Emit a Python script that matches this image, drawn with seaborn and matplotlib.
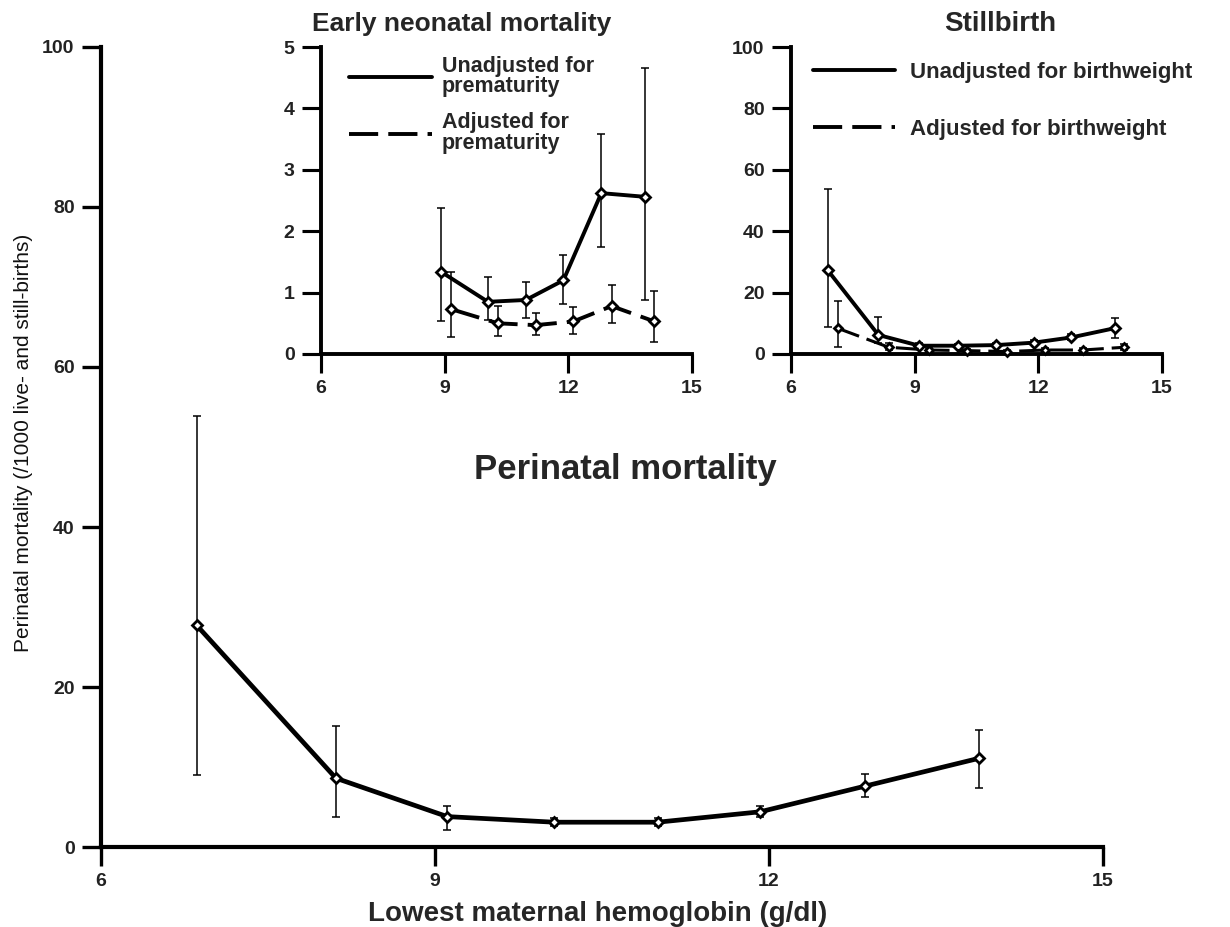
import matplotlib
matplotlib.use("Agg")
import matplotlib.pyplot as plt
from matplotlib.lines import Line2D
import seaborn as sns
import pandas as pd

# ---------------- data ----------------
# Perinatal mortality (main panel)
peri_x = [6.86, 8.11, 9.11, 10.07, 11.0, 11.92, 12.86, 13.89]
peri_y = [27.7, 8.6, 3.8, 3.1, 3.1, 4.4, 7.6, 11.1]
peri_lo = [9.0, 3.75, 2.1, 2.6, 2.6, 3.7, 6.3, 7.4]
peri_hi = [53.9, 15.1, 5.1, 3.6, 3.6, 5.1, 9.1, 14.6]

# Early neonatal mortality
enm_unadj_x = [8.91, 10.05, 10.97, 11.88, 12.8, 13.86]
enm_unadj_y = [1.34, 0.85, 0.88, 1.2, 2.62, 2.56]
enm_unadj_lo = [0.53, 0.55, 0.58, 0.81, 1.75, 0.88]
enm_unadj_hi = [2.37, 1.26, 1.18, 1.61, 3.58, 4.66]
enm_adj_x = [9.16, 10.29, 11.21, 12.12, 13.05, 14.09]
enm_adj_y = [0.73, 0.50, 0.47, 0.53, 0.78, 0.53]
enm_adj_lo = [0.28, 0.29, 0.31, 0.32, 0.51, 0.20]
enm_adj_hi = [1.34, 0.78, 0.66, 0.77, 1.12, 1.03]

# Stillbirth
sb_unadj_x = [6.89, 8.12, 9.11, 10.05, 10.98, 11.89, 12.8, 13.85]
sb_unadj_y = [27.3, 6.2, 2.7, 2.7, 2.9, 3.7, 5.4, 8.4]
sb_unadj_lo = [8.9, 3.7, 2.0, 2.0, 2.2, 2.8, 4.4, 5.1]
sb_unadj_hi = [53.7, 11.9, 3.5, 3.4, 3.6, 4.6, 6.5, 11.6]
sb_adj_x = [7.13, 8.37, 9.34, 10.27, 11.24, 12.16, 13.08, 14.09]
sb_adj_y = [8.4, 2.2, 1.3, 1.1, 0.8, 1.3, 1.3, 2.2]
sb_adj_lo = [2.4, 1.2, 0.8, 0.7, 0.4, 0.8, 0.8, 1.4]
sb_adj_hi = [17.2, 3.6, 1.9, 1.6, 1.3, 1.9, 1.9, 3.1]

x_ticks = [6, 9, 12, 15]
main_yticks = [0, 20, 40, 60, 80, 100]
enm_yticks = [0, 1, 2, 3, 4, 5]
sb_yticks = [0, 20, 40, 60, 80, 100]

# ---------------- style ----------------
sns.set_style("ticks")
plt.rcParams['font.family'] = ['Liberation Sans', 'DejaVu Sans']

DASH = (0, (7.5, 2.6))

fig = plt.figure(figsize=(12.3, 9.27), dpi=100)
W, H = 1230.0, 927.0
ax = fig.add_axes([101 / W, (H - 847) / H, 1002 / W, 800 / H])
ax1 = fig.add_axes([321 / W, (H - 354) / H, 371 / W, 307 / H])
ax2 = fig.add_axes([791 / W, (H - 354) / H, 371 / W, 307 / H])


def draw_series(a, xs, ys, lo, hi, ls, lw, ms):
    df = pd.DataFrame({"x": xs, "y": ys})
    sns.lineplot(data=df, x="x", y="y", ax=a, color="black", linewidth=lw,
                 linestyle=ls, marker="D", markersize=ms,
                 markerfacecolor="white", markeredgecolor="black",
                 markeredgewidth=2.0, sort=False, legend=False, clip_on=False,
                 zorder=3)
    yerr = [[y - l for y, l in zip(ys, lo)], [h - y for y, h in zip(ys, hi)]]
    a.errorbar(xs, ys, yerr=yerr, fmt="none", ecolor="black", elinewidth=1.1,
               capsize=3, capthick=1.1, zorder=2, clip_on=False)


def style_axes(a, yticks, ylim, spine_w, tick_fs):
    a.set_xlim(6, 15)
    a.set_ylim(*ylim)
    a.set_xticks(x_ticks)
    a.set_yticks(yticks)
    for s in ["top", "right"]:
        a.spines[s].set_visible(False)
    for s in ["left", "bottom"]:
        a.spines[s].set_linewidth(spine_w)
        a.spines[s].set_color("black")
    a.tick_params(axis="both", length=14, width=spine_w * 0.8, color="black",
                  labelsize=tick_fs, pad=5, labelcolor="#222222")
    for lab in a.get_xticklabels() + a.get_yticklabels():
        lab.set_fontweight("bold")
    a.set_xlabel("")
    a.set_ylabel("")


# main panel
draw_series(ax, peri_x, peri_y, peri_lo, peri_hi, "-", 3.4, 5.5)
style_axes(ax, main_yticks, (0, 100), 3.0, 14)
ax.set_xlabel("Lowest maternal hemoglobin (g/dl)", fontsize=20,
              fontweight="bold", va="top")
ax.xaxis.set_label_coords(0.496, -0.0675)
ax.set_ylabel("Perinatal mortality (/1000 live- and still-births)",
              fontsize=15, color="#111111")
ax.yaxis.set_label_coords(-0.068, 0.505)
ax.text(0.523, 0.472, "Perinatal mortality", transform=ax.transAxes,
        ha="center", va="center", fontsize=25, fontweight="bold")

# early neonatal inset
draw_series(ax1, enm_unadj_x, enm_unadj_y, enm_unadj_lo, enm_unadj_hi, "-", 2.8, 5)
draw_series(ax1, enm_adj_x, enm_adj_y, enm_adj_lo, enm_adj_hi, DASH, 2.8, 5)
style_axes(ax1, enm_yticks, (0, 5), 2.8, 14)
ax1.text(0.38, 1.075, "Early neonatal mortality", transform=ax1.transAxes,
         ha="center", va="center", fontsize=19, fontweight="bold")
h1 = [Line2D([], [], color="black", lw=2.8, linestyle="-"),
      Line2D([], [], color="black", lw=2.8, linestyle=DASH)]
leg1 = ax1.legend(h1, ["Unadjusted for\nprematurity", "Adjusted for\nprematurity"],
                  loc="upper left", bbox_to_anchor=(0.075, 0.97), frameon=False,
                  handlelength=3.86, handletextpad=0.47, labelspacing=0.7,
                  borderaxespad=0, borderpad=0,
                  prop={"size": 15.5, "weight": "bold"})
for t in leg1.get_texts():
    t.set_linespacing(0.95)

# stillbirth inset
draw_series(ax2, sb_unadj_x, sb_unadj_y, sb_unadj_lo, sb_unadj_hi, "-", 2.8, 5)
draw_series(ax2, sb_adj_x, sb_adj_y, sb_adj_lo, sb_adj_hi, DASH, 2.2, 4.5)
style_axes(ax2, sb_yticks, (0, 100), 2.8, 14)
ax2.text(0.563, 1.075, "Stillbirth", transform=ax2.transAxes,
         ha="center", va="center", fontsize=20, fontweight="bold")
h2 = [Line2D([], [], color="black", lw=2.8, linestyle="-"),
      Line2D([], [], color="black", lw=2.8, linestyle=DASH)]
ax2.legend(h2, ["Unadjusted for birthweight", "Adjusted for birthweight"],
           loc="upper left", bbox_to_anchor=(0.059, 0.951), frameon=False,
           handlelength=3.7, handletextpad=0.68, labelspacing=1.62,
           borderaxespad=0, borderpad=0,
           prop={"size": 16, "weight": "bold"})

fig.savefig("out.png", dpi=100)
